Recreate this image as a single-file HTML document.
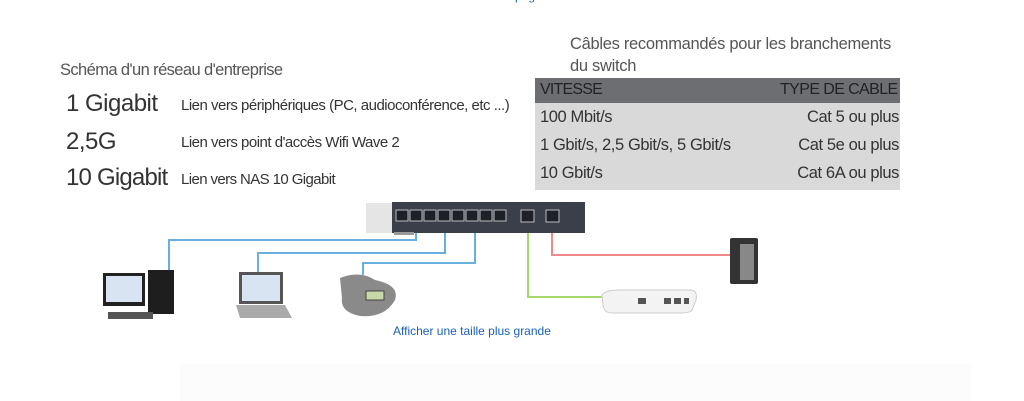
<!DOCTYPE html>
<html><head><meta charset="utf-8"><style>
body{margin:0;width:1024px;height:401px;background:#fff;position:relative;overflow:hidden;font-family:"Liberation Sans",sans-serif;color:#333}
.a{position:absolute;white-space:nowrap}
</style></head><body>
<div class="a" style="left:515px;top:-11px;font-size:12px;color:#1a5fb4">p..g..</div>
<div class="a" style="left:60px;top:61px;font-size:16.5px;color:#555;letter-spacing:-0.6px">Schéma d'un réseau d'entreprise</div>
<div class="a" style="left:66px;top:90px;font-size:24px;color:#333;letter-spacing:-0.5px">1 Gigabit</div>
<div class="a" style="left:181px;top:97px;font-size:15px;letter-spacing:-0.5px">Lien vers périphériques (PC, audioconférence, etc ...)</div>
<div class="a" style="left:66px;top:128px;font-size:24px;letter-spacing:-0.5px">2,5G</div>
<div class="a" style="left:181px;top:134px;font-size:15px;letter-spacing:-0.5px">Lien vers point d'accès Wifi Wave 2</div>
<div class="a" style="left:66px;top:164px;font-size:24px;letter-spacing:-0.8px">10 Gigabit</div>
<div class="a" style="left:181px;top:171px;font-size:15px;letter-spacing:-0.6px">Lien vers NAS 10 Gigabit</div>

<div class="a" style="left:570px;top:33px;font-size:16.5px;color:#555;line-height:22px;letter-spacing:-0.3px">Câbles recommandés pour les branchements<br>du switch</div>
<div class="a" style="left:535px;top:78px;width:365px;height:25px;background:#6d6e72"></div>
<div class="a" style="left:535px;top:103px;width:365px;height:87px;background:#d9d9d9"></div>
<div class="a" style="left:540px;top:81px;font-size:16px;color:#222;letter-spacing:-0.8px">VITESSE</div>
<div class="a" style="left:780px;top:81px;font-size:16px;color:#222;letter-spacing:-0.6px">TYPE DE CABLE</div>
<div class="a" style="left:540px;top:108px;font-size:16.5px;letter-spacing:-0.4px">100 Mbit/s</div>
<div class="a" style="left:540px;top:136px;font-size:16.5px;letter-spacing:-0.4px">1 Gbit/s, 2,5 Gbit/s, 5 Gbit/s</div>
<div class="a" style="left:540px;top:164px;font-size:16.5px;letter-spacing:-0.4px">10 Gbit/s</div>
<div class="a" style="right:125px;top:108px;font-size:16.5px;letter-spacing:-0.4px">Cat 5 ou plus</div>
<div class="a" style="right:125px;top:136px;font-size:16.5px;letter-spacing:-0.4px">Cat 5e ou plus</div>
<div class="a" style="right:125px;top:164px;font-size:16.5px;letter-spacing:-0.4px">Cat 6A ou plus</div>

<svg class="a" style="left:0;top:0" width="1024" height="401">
<g fill="none" stroke-width="2">
<polyline points="416,220 416,240 169,240 169,272" stroke="#6ab0de"/>
<polyline points="445,220 445,253 258,253 258,272" stroke="#6ab0de"/>
<polyline points="475,220 475,263 363,263 363,275" stroke="#6ab0de"/>
<polyline points="528,220 528,297 605,297" stroke="#a6d66e"/>
<polyline points="552,220 552,255 736,255" stroke="#f08a8a"/>
</g>
<rect x="366" y="203" width="28" height="30" fill="#e5e5e5"/>
<rect x="392" y="202" width="193" height="31" fill="#3b3f4a"/>
<rect x="394" y="232" width="20" height="3" fill="#999"/>
<g fill="#1e2028" stroke="#bbb" stroke-width="1">
<rect x="396" y="210" width="12" height="11"/><rect x="410" y="210" width="12" height="11"/><rect x="424" y="210" width="12" height="11"/><rect x="438" y="210" width="12" height="11"/><rect x="452" y="210" width="12" height="11"/><rect x="466" y="210" width="12" height="11"/><rect x="480" y="210" width="12" height="11"/><rect x="494" y="210" width="12" height="11"/>
<rect x="521" y="210" width="13" height="12"/><rect x="546" y="210" width="13" height="12"/>
</g>
<rect x="730" y="238" width="28" height="46" fill="#333" rx="2"/>
<rect x="740" y="244" width="14" height="36" fill="#888"/>
<path d="M602 295 Q605 290 620 290 L690 290 Q698 290 696 300 L692 310 Q690 313 680 313 L612 313 Q604 313 603 305Z" fill="#f3f3f3" stroke="#ccc"/>
<rect x="638" y="298" width="8" height="6" fill="#555"/><rect x="664" y="298" width="7" height="6" fill="#555"/><rect x="674" y="298" width="7" height="6" fill="#555"/><rect x="684" y="298" width="5" height="6" fill="#555"/>
<rect x="103" y="273" width="42" height="33" fill="#222"/><rect x="106" y="276" width="36" height="26" fill="#d8e4f2"/>
<rect x="148" y="270" width="26" height="44" fill="#1e1e1e"/>
<rect x="108" y="312" width="45" height="7" fill="#555"/>
<rect x="239" y="272" width="44" height="32" fill="#555"/><rect x="242" y="275" width="38" height="26" fill="#d8e4f2"/>
<path d="M236 305 L285 305 L292 318 L240 318Z" fill="#aaa"/>
<path d="M340 278 Q360 270 375 280 Q400 285 395 300 Q385 318 360 316 Q340 312 342 298Z" fill="#8a8a8a"/>
<rect x="366" y="291" width="18" height="9" fill="#c9d8a8" stroke="#444"/>
</svg>
<div class="a" style="left:393px;top:324px;font-size:12px;color:#1a5fb4">Afficher une taille plus grande</div>
<div class="a" style="left:180px;top:364px;width:790px;height:37px;background:#fcfcfc"></div>
</body></html>
